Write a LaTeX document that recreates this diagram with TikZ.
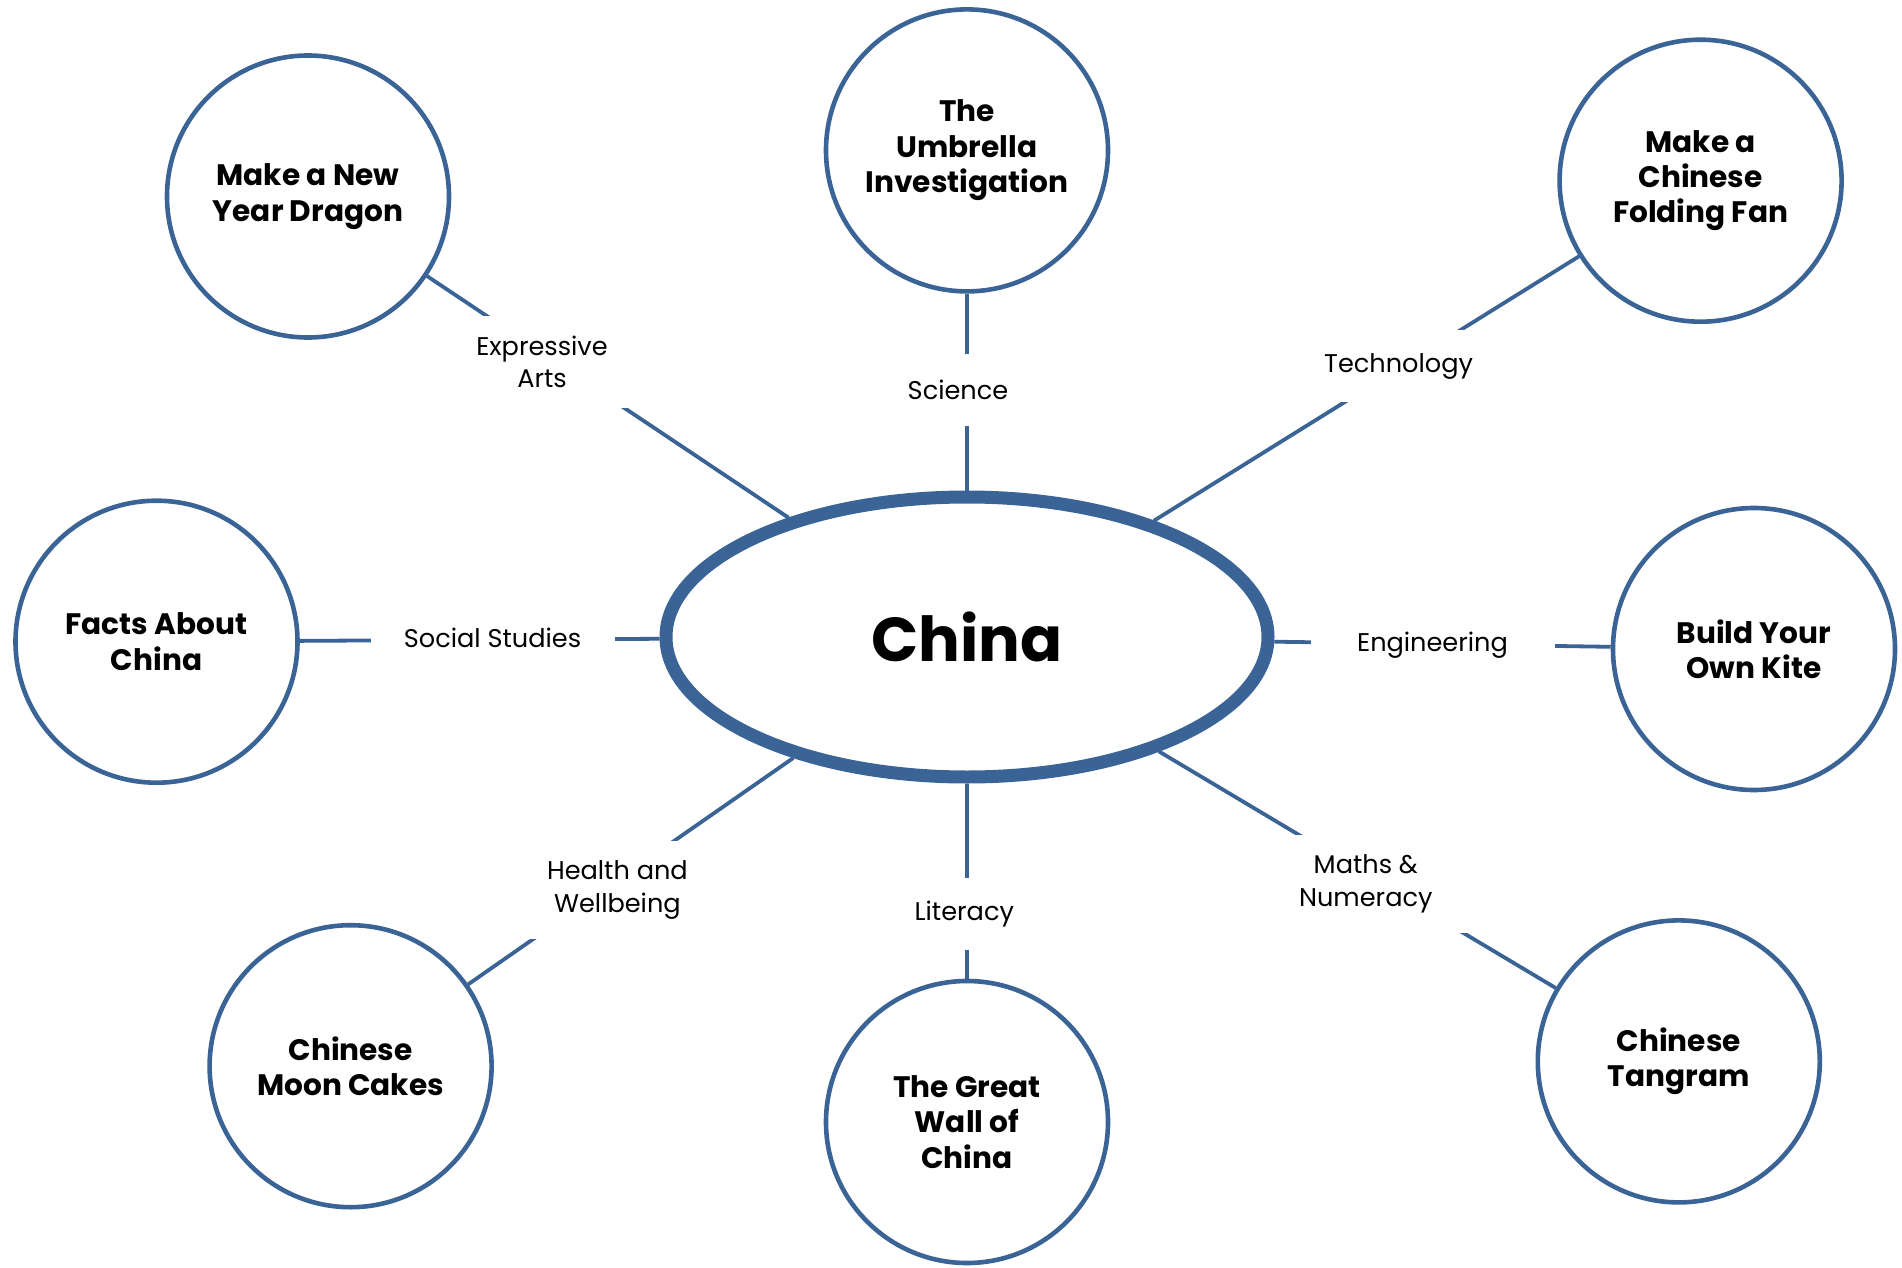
\documentclass[tikz,border=0pt]{standalone}
\usepackage{fontspec}
\setmainfont{Poppins}
\usetikzlibrary{shapes.geometric}
\definecolor{topicblue}{RGB}{58,99,150}

\begin{document}
\begin{tikzpicture}[x=0.5pt,y=-0.5pt,
    topic/.style={circle,draw=topicblue,line width=2.3pt,fill=white,minimum size=141pt,inner sep=0pt,align=center,font=\fontsize{14.8}{17.7}\selectfont\bfseries},
    hub/.style={ellipse,draw=topicblue,line width=6.5pt,fill=white,minimum width=301pt,minimum height=140pt,font=\fontsize{31}{36}\selectfont\bfseries},
    subject/.style={fill=white,minimum width=122pt,minimum height=36pt,inner ysep=10pt,align=center,font=\fontsize{12.8}{16.3}\selectfont},
    link/.style={draw=topicblue,line width=1.9pt}]
    \useasboundingbox (0,0) rectangle (1902,1268);

    \node [hub] (china) at (967,637) {China};

    \node [topic] (dragon) at (308,196.5) {Make a New\\Year Dragon};
    \node [topic] (umbrella) at (967,150.4) {The\\Umbrella\\Investigation};
    \node [topic] (fan) at (1700.6,180.7) {Make a\\Chinese\\Folding Fan};
    \node [topic] (facts) at (156.5,641.7) {Facts About\\China};
    \node [topic] (kite) at (1754,649) {Build Your\\Own Kite};
    \node [topic] (mooncakes) at (350.6,1066.2) {Chinese\\Moon Cakes};
    \node [topic] (greatwall) at (967,1122) {The Great\\Wall of\\China};
    \node [topic] (tangram) at (1678.8,1061.4) {Chinese\\Tangram};

    \draw [link] (dragon) -- (china);
    \draw [link] (umbrella) -- (china);
    \draw [link] (fan) -- (china);
    \draw [link] (facts) -- (china);
    \draw [link] (kite) -- (china);
    \draw [link] (mooncakes) -- (china);
    \draw [link] (greatwall) -- (china);
    \draw [link] (tangram) -- (china);

    \node [subject] (arts) at (542,362) {Expressive\\Arts};
    \node [subject] (science) at (958,390) {Science};
    \node [subject] (technology) at (1398.6,366) {Technology};
    \node [subject] (social) at (492.5,638) {Social Studies};
    \node [subject] (engineering) at (1432.5,645) {Engineering};
    \node [subject] (health) at (617.4,890) {Health and\\Wellbeing};
    \node [subject] (literacy) at (964.3,914) {Literacy};
    \node [subject] (maths) at (1365.8,884) {Maths \&\\Numeracy};
\end{tikzpicture}
\end{document}
